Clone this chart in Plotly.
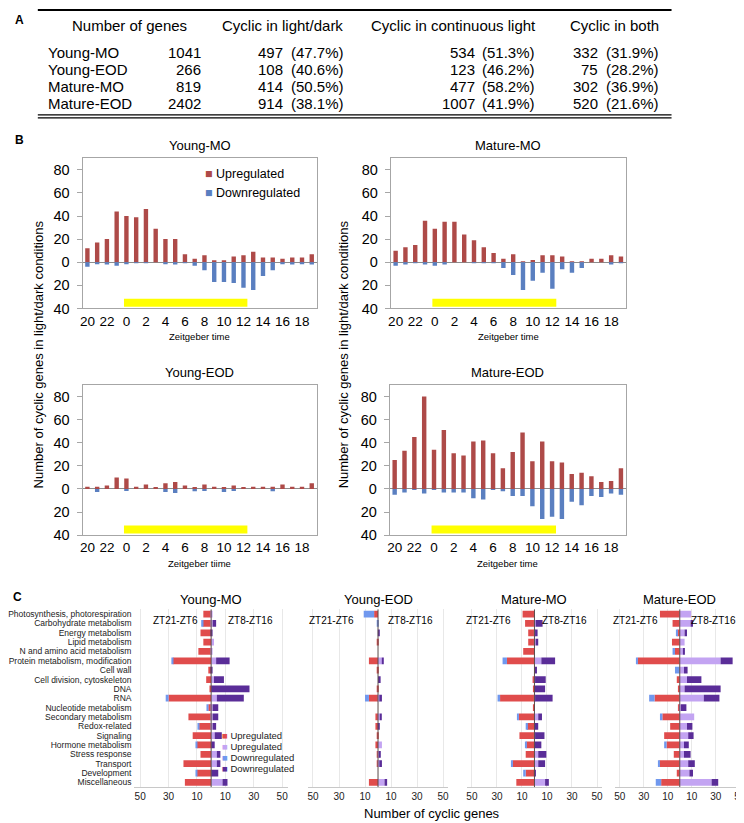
import plotly.graph_objects as go

FONT = "Liberation Sans, Arial, sans-serif"
W, H = 744, 823

# ---------------- Panel A : table ----------------
TABLE_HEADERS = ["Number of genes", "Cyclic in light/dark", "Cyclic in continuous light", "Cyclic in both"]
TABLE_ROWS = ["Young-MO", "Young-EOD", "Mature-MO", "Mature-EOD"]
GENES = [1041, 266, 819, 2402]
CYC_LD = [497, 108, 414, 914]
CYC_LD_PCT = ["47.7%", "40.6%", "50.5%", "38.1%"]
CYC_LL = [534, 123, 477, 1007]
CYC_LL_PCT = ["51.3%", "46.2%", "58.2%", "41.9%"]
CYC_BOTH = [332, 75, 302, 520]
CYC_BOTH_PCT = ["31.9%", "28.2%", "36.9%", "21.6%"]

# ---------------- Panel B : cyclic genes per ZT ----------------
ZT = [20, 21, 22, 23] + list(range(0, 20))
LIGHT_ON, LIGHT_OFF = 0, 12
B_TITLES = ["Young-MO", "Mature-MO", "Young-EOD", "Mature-EOD"]
B_XTITLES = ["Zeitgeber time", "Zeitgeber time", "Zeitgeber tiime", "Zeitgeber time"]
B_LEGEND = ["Upregulated", "Downregulated"]
YMO_UP = [12, 17, 20, 44, 40, 39, 46, 29, 20, 20, 7, 3, 6, 1.5, 1, 5, 6, 9, 4, 4, 3, 4, 4, 7]
YMO_DOWN = [4, 1, 2, 3, 1, 0.5, 0.5, 0, 1, 2, 0.5, 3, 7, 17, 17, 18, 22, 24, 12, 7, 1, 2, 1, 2]
MMO_UP = [10, 13, 15, 36, 29, 35, 35, 24, 19, 13, 8, 3, 7, 0.5, 2, 6, 6, 5, 0.5, 0.5, 3, 3, 6, 5]
MMO_DOWN = [3, 2, 0.5, 2, 3, 2, 0, 0, 0.5, 0.5, 0.5, 5, 11, 24, 16, 9, 23, 6, 9, 5, 0, 0, 2, 0.5]
YEOD_UP = [2, 2, 3, 10, 9, 2, 4, 1.5, 5, 6, 3, 1.5, 4, 2, 1.5, 3, 1.5, 2, 2, 2, 4, 2, 2, 5]
YEOD_DOWN = [0, 2.5, 0, 0, 1, 0, 0, 0, 2.5, 3.5, 0, 2, 1.5, 0, 2.5, 1.5, 0, 0, 0, 2, 0, 0, 0, 0]
MEOD_UP = [25, 33, 45, 80, 34, 51, 31, 29, 41, 42, 31, 18, 32, 49, 24, 41, 24, 23, 13, 14, 11, 6, 7, 18]
MEOD_DOWN = [5, 3, 0.5, 4, 0.5, 3, 3, 3, 8, 9, 0.5, 2, 6, 6, 15, 26, 24, 26, 11, 14, 6, 7, 4, 5]
B_UP = [YMO_UP, MMO_UP, YEOD_UP, MEOD_UP]
B_DOWN = [YMO_DOWN, MMO_DOWN, YEOD_DOWN, MEOD_DOWN]
B_YTICKS = [-40, -20, 0, 20, 40, 60, 80]

# ---------------- Panel C : functional categories ----------------
CATEGORIES = ["Photosynthesis, photorespiration", "Carbohydrate metabolism", "Energy metabolism",
              "Lipid metabolism", "N and amino acid metabolism", "Protein metabolism, modification",
              "Cell wall", "Cell division, cytoskeleton", "DNA", "RNA", "Nucleotide metabolism",
              "Secondary metabolism", "Redox-related", "Signaling", "Hormone metabolism",
              "Stress response", "Transport", "Development", "Miscellaneous"]
C_TITLES = ["Young-MO", "Young-EOD", "Mature-MO", "Mature-EOD"]
# ZT21-ZT6 (left side)  up / down ; ZT8-ZT16 (right side) up / down
YMO_E_UP = [5.5, 6, 7.5, 5.5, 9, 27, 2, 3.5, 1, 30, 2, 16, 8.5, 13, 10, 7.5, 19.5, 10, 18.5]
YMO_E_DN = [0, 1, 0, 0, 0, 1, 0, 0, 0, 2, 1, 0, 1, 0, 1, 0, 0, 1, 0]
YMO_L_UP = [1, 1, 0, 2, 1, 3.5, 0, 2, 0, 4, 1, 1, 1, 2.5, 0, 4, 4, 0, 8]
YMO_L_DN = [0, 2.5, 1, 0, 0, 9.5, 1, 7, 27, 19, 4, 4, 2.5, 5, 2.5, 2.5, 2.5, 5, 3.5]
YEOD_E_UP = [3, 0, 0, 1, 0, 7, 1, 0, 1, 7, 0, 2, 2, 1, 2, 1, 1, 0, 7]
YEOD_E_DN = [8, 1, 0, 0, 0, 0, 0, 0, 0, 3, 0, 0, 0, 0, 0, 0, 0, 0, 0]
YEOD_L_UP = [0, 0, 0, 0, 0, 3, 0, 0, 0, 1, 0, 1.5, 0, 0, 3, 1, 1, 0, 5]
YEOD_L_DN = [0, 0, 1, 0, 0, 1, 0, 2, 0, 2, 0, 1, 1, 0, 0, 1, 2, 0, 2]
MMO_E_UP = [9.5, 7.5, 5, 5, 9, 22, 0, 1.5, 1, 27.5, 1, 12.5, 6, 12, 6.5, 7, 17.5, 7, 14.5]
MMO_E_DN = [0, 0, 0, 0, 0, 3.5, 0, 0, 0, 2, 0, 1, 1, 0, 1, 0, 1, 2, 0]
MMO_L_UP = [0, 1, 0.5, 1, 0, 5.5, 0, 0.5, 0, 0.5, 0, 3, 0, 0.5, 0, 3, 3, 0, 8.5]
MMO_L_DN = [0, 5.5, 2, 2, 0, 11, 2, 8.5, 8.5, 14, 0, 3, 3, 7.5, 5.5, 6.5, 5.5, 1, 3]
MEOD_E_UP = [16.5, 6, 2, 6.5, 4, 35, 0, 2.5, 1, 21, 1.5, 14.5, 8, 13, 11, 5, 17, 2.5, 15.5]
MEOD_E_DN = [0, 0, 1, 0, 2, 1, 4, 0, 0, 4.5, 0, 2, 0, 0, 2, 0, 1, 0, 4.5]
MEOD_L_UP = [9.5, 9, 4, 4, 3, 34, 3.5, 6, 4, 20, 1, 12, 6, 7, 3.5, 3.5, 7, 8, 26.5]
MEOD_L_DN = [0, 2, 2, 0, 1, 10, 3, 12, 30, 13, 4.5, 0, 4.5, 4.5, 4, 5.5, 5.5, 3, 5.5]
C_DATA = [(YMO_E_UP, YMO_E_DN, YMO_L_UP, YMO_L_DN),
          (YEOD_E_UP, YEOD_E_DN, YEOD_L_UP, YEOD_L_DN),
          (MMO_E_UP, MMO_E_DN, MMO_L_UP, MMO_L_DN),
          (MEOD_E_UP, MEOD_E_DN, MEOD_L_UP, MEOD_L_DN)]
C_TICKS = [-50, -30, -10, 10, 30, 50]
C_LEGEND = ["Upregulated", "Upregulated", "Downregulated", "Downregulated"]

# ---------------- styles ----------------
RED_B, BLUE_B, YELLOW = "#ae4a48", "#5a7fc0", "#ffff00"
C_COLORS = ["#e04c4c", "#7098ee", "#c3a4f2", "#5a2d98"]  # early-up, early-down, late-up, late-down
C_LEG_COLORS = [C_COLORS[0], C_COLORS[2], C_COLORS[1], C_COLORS[3]]
TFS = 15  # table font size


def X(px):
    return px / W


def Y(py):
    return 1 - py / H


fig = go.Figure()
layout = {}
annotations = []
shapes = []


def text(x, y, s, size, xanchor="center", yanchor="middle", angle=0, bold=False, color="#000"):
    annotations.append(dict(x=X(x), y=Y(y), xref="paper", yref="paper", text=("<b>%s</b>" % s) if bold else s,
                            showarrow=False, xanchor=xanchor, yanchor=yanchor, textangle=angle,
                            font=dict(size=size, family=FONT, color=color), borderpad=0))


# ---------- Panel A ----------
text(8, 12, "A", 12, bold=True)
header_x = [118, 272, 444, 607]
for hx, h in zip(header_x, TABLE_HEADERS):
    text(hx, 18, h, TFS)
row_y = [45, 62, 79, 96]
PCT_GAP = 61
for i, r in enumerate(TABLE_ROWS):
    y = row_y[i]
    text(35, y, r, TFS, xanchor="left")
    text(191, y, str(GENES[i]), TFS, xanchor="right")
    text(335 - PCT_GAP, y, str(CYC_LD[i]), TFS, xanchor="right")
    text(335, y, "(%s)" % CYC_LD_PCT[i], TFS, xanchor="right")
    text(528 - PCT_GAP, y, str(CYC_LL[i]), TFS, xanchor="right")
    text(528, y, "(%s)" % CYC_LL_PCT[i], TFS, xanchor="right")
    text(652 - PCT_GAP, y, str(CYC_BOTH[i]), TFS, xanchor="right")
    text(652, y, "(%s)" % CYC_BOTH_PCT[i], TFS, xanchor="right")
for ly, lw in [(2, 2), (108, 1.2), (111, 1.2)]:
    shapes.append(dict(type="line", xref="paper", yref="paper", x0=X(26), x1=X(664), y0=Y(ly), y1=Y(ly),
                       line=dict(color="#000", width=lw)))

# ---------- Panel B ----------
text(8, 133, "B", 12, bold=True)
B_BOX = [((71, 306.7), (151.7, 303.4)), ((381.3, 618), (151.7, 303.4)),
         ((71, 306.7), (380.7, 532.4)), ((380.3, 618), (380.7, 532.4))]
idx = list(range(len(ZT)))
for k in range(4):
    n = k + 1
    (xl, xr), (yt, yb) = B_BOX[k]
    xa, ya = ("x" if n == 1 else "x%d" % n), ("y" if n == 1 else "y%d" % n)
    fig.add_trace(go.Bar(x=idx, y=B_UP[k], width=0.45, marker=dict(color=RED_B, line=dict(width=0)),
                         name=B_LEGEND[0], showlegend=False, xaxis=xa, yaxis=ya))
    fig.add_trace(go.Bar(x=idx, y=[-v for v in B_DOWN[k]], width=0.45,
                         marker=dict(color=BLUE_B, line=dict(width=0)),
                         name=B_LEGEND[1], showlegend=False, xaxis=xa, yaxis=ya))
    layout["xaxis" if n == 1 else "xaxis%d" % n] = dict(
        domain=[X(xl), X(xr)], range=[-0.5, len(ZT) - 0.5], anchor=ya,
        tickmode="array", tickvals=idx[::2], ticktext=[str(z) for z in ZT[::2]],
        ticks="", showgrid=False, zeroline=False, showline=True, mirror=True, linecolor="#a6a6a6",
        tickfont=dict(size=13.5, family=FONT, color="#000"))
    layout["yaxis" if n == 1 else "yaxis%d" % n] = dict(
        domain=[Y(yb), Y(yt)], range=[-40, 90], anchor=xa,
        tickmode="array", tickvals=B_YTICKS, ticktext=[str(abs(v)) for v in B_YTICKS],
        ticks="outside", ticklen=5, tickcolor="#a6a6a6", ticklabelstandoff=4,
        showgrid=False, zeroline=True, zerolinecolor="#8c8c8c", zerolinewidth=1.2,
        showline=True, mirror=True, linecolor="#a6a6a6",
        tickfont=dict(size=14.5, family=FONT, color="#000"))
    # light period bar
    shapes.append(dict(type="rect", xref=xa, yref=ya, x0=ZT.index(LIGHT_ON) - 0.25,
                       x1=ZT.index(LIGHT_OFF) + 0.4, y0=-38.5, y1=-31.5,
                       fillcolor=YELLOW, line=dict(width=0), layer="above"))
    text((xl + xr) / 2, yt - 12.5, B_TITLES[k], 13)
    text((xl + xr) / 2, yb + 28.5, B_XTITLES[k], 9.5)

# panel B legend (inside Young-MO)
for i, (lab, col) in enumerate(zip(B_LEGEND, [RED_B, BLUE_B])):
    annotations.append(dict(x=X(193), y=Y(168 + 19 * i), xref="paper", yref="paper",
                            text="<span style='color:%s'>■</span> %s" % (col, lab), showarrow=False,
                            xanchor="left", yanchor="middle", font=dict(size=12.5, family=FONT, color="#000"),
                            borderpad=0))

text(27, 350, "Number of cyclic genes in light/dark conditions", 13, angle=-90)
text(334, 350, "Number of cyclic genes in light/dark conditions", 13, angle=-90)

# ---------- Panel C ----------
text(6, 595, "C", 12, bold=True)
C_BOX = [(123.3, 277.7), (297.8, 439.2), (458, 594), (607, 737.6)]
C_YT, C_YB = 607.3, 786.7
for k in range(4):
    n = k + 5
    xa, ya = "x%d" % n, "y%d" % n
    xl, xr = C_BOX[k]
    e_up, e_dn, l_up, l_dn = C_DATA[k]
    series = [([-v for v in e_up], C_COLORS[0]), ([-v for v in e_dn], C_COLORS[1]),
              (l_up, C_COLORS[2]), (l_dn, C_COLORS[3])]
    for vals, col in series:
        fig.add_trace(go.Bar(y=CATEGORIES, x=vals, orientation="h", width=0.72,
                             marker=dict(color=col, line=dict(width=0)),
                             showlegend=False, xaxis=xa, yaxis=ya))
    layout["xaxis%d" % n] = dict(
        domain=[X(xl), X(xr)], range=[-54, 54], anchor=ya,
        tickmode="array", tickvals=C_TICKS, ticktext=[str(abs(v)) for v in C_TICKS],
        ticks="", showgrid=True, gridcolor="#e8e8e8", gridwidth=1, zeroline=False,
        showline=True, linecolor="#c8c8c8", tickfont=dict(size=10, family=FONT, color="#222"))
    layout["yaxis%d" % n] = dict(
        domain=[Y(C_YB), Y(C_YT)], anchor=xa, type="category",
        categoryorder="array", categoryarray=CATEGORIES, range=[len(CATEGORIES) - 0.5, -0.5],
        tickmode="array", tickvals=CATEGORIES, ticktext=CATEGORIES,
        ticks="", showgrid=False, zeroline=False, showline=False, showticklabels=(k == 0),
        ticklabelstandoff=2, tickfont=dict(size=8.5, family=FONT, color="#222"))
    shapes.append(dict(type="line", xref=xa, yref="%s domain" % ya, x0=0, x1=0, y0=0, y1=1,
                       line=dict(color="#5a4a4a", width=1), layer="above"))
    zpx = (xl + xr) / 2
    text(zpx, 597, C_TITLES[k], 13)

zt_pos = [(165, 240), (322, 401), (480, 556), (628, 706)]
for a, b in zt_pos:
    text(a, 619, "ZT21-ZT6", 10)
    text(b, 619, "ZT8-ZT16", 10)

for i, (lab, col) in enumerate(zip(C_LEGEND, C_LEG_COLORS)):
    annotations.append(dict(x=X(210), y=Y(735 + 11 * i), xref="paper", yref="paper",
                            text="<span style='color:%s'>■</span> %s" % (col, lab), showarrow=False,
                            xanchor="left", yanchor="middle", font=dict(size=9.5, family=FONT, color="#222"),
                            borderpad=0))

text(423, 813, "Number of cyclic genes", 13)

fig.update_layout(
    width=W, height=H, margin=dict(l=0, r=0, t=0, b=0, pad=0),
    paper_bgcolor="white", plot_bgcolor="white", barmode="relative",
    font=dict(family=FONT, color="#000"), showlegend=False,
    annotations=annotations, shapes=shapes, **layout)

fig.write_html("out.html")
